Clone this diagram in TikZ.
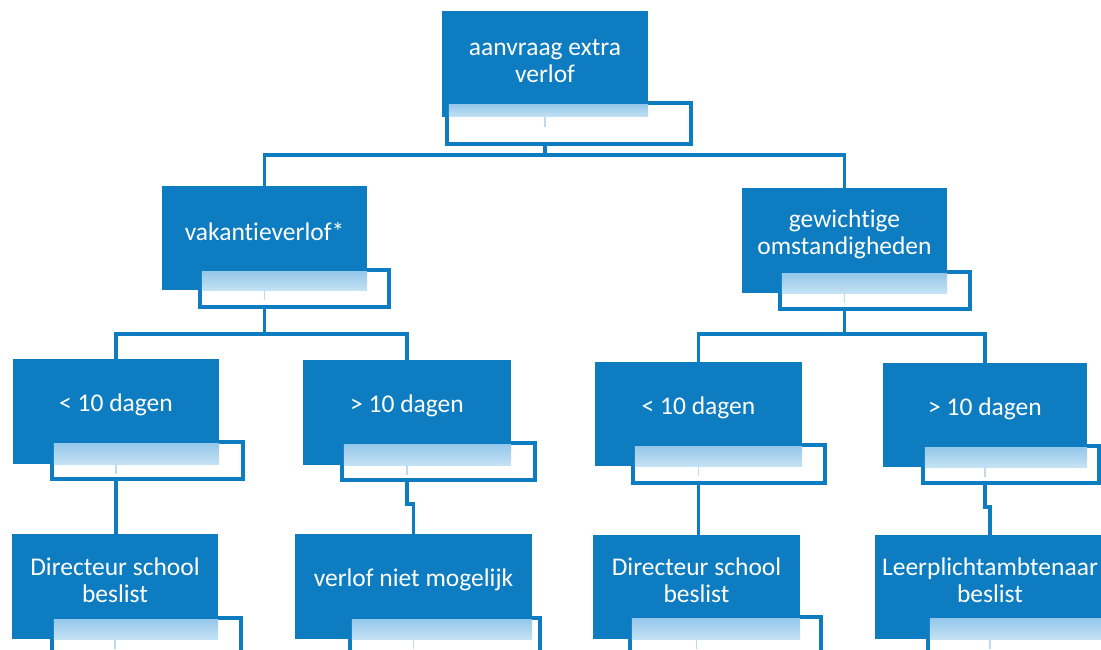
\documentclass[tikz,border=0pt]{standalone}
\usepackage{fontspec}
\setmainfont[Ligatures=NoCommon]{Carlito}
\definecolor{boxblue}{RGB}{14,124,193}
\definecolor{bandtop}{RGB}{150,200,234}
\definecolor{bandbot}{RGB}{196,226,245}
\definecolor{tickblue}{RGB}{185,220,240}
\tikzset{
  bluebox/.style={fill=boxblue, draw=none, inner sep=0pt},
  whitebox/.style={fill=white, draw=boxblue, line width=3.5pt, inner sep=0pt},
  lbl/.style={text=white, font=\fontsize{25.5}{27}\selectfont, align=center, inner sep=0pt},
  conn/.style={draw=boxblue, line width=3.5pt},
}
% \blk{name}{bx1}{by1}{bx2}{by2}{wx1}{wy1}{wx2}{wy2}{text}
\newcommand{\blk}[9]{%
  \def\bname{#1}\def\bxa{#2}\def\bya{#3}\def\bxb{#4}\def\byb{#5}%
  \def\wxa{#6}\def\wya{#7}\def\wxb{#8}\def\wyb{#9}%
  \blkdraw}
\newcommand{\blkdraw}[1]{%
  \node[bluebox, minimum width=\bxb-\bxa, minimum height=\byb-\bya] (\bname-b) at ({(\bxa+\bxb)/2},{(\bya+\byb)/2}) {};
  \node[whitebox, minimum width=\wxb-\wxa, minimum height=\wyb-\wya] (\bname-w) at ({(\wxa+\wxb)/2},{(\wya+\wyb)/2}) {};
  \shade[top color=bandtop, bottom color=bandbot] (\wxa+1.75,\wya+1.75) rectangle (\bxb,\byb);
  \draw[tickblue, line width=1.5pt] ({(\bxa+\bxb)/2},\byb) -- ++(0,10);
  \node[lbl] (\bname) at ({(\bxa+\bxb)/2},{(\bya+\wya)/2+4}) {#1};
}
\begin{document}
\begin{tikzpicture}[x=1pt, y=-1pt]
\useasboundingbox (0,0) rectangle (1101,650);
\fill[white] (0,0) rectangle (1101,650);

\blk{top}{442}{11}{648}{117}{447}{103}{691}{144}{aanvraag extra\\verlof}
\blk{vak}{162}{186}{367}{290}{200}{270}{389}{307}{vakantieverlof*}
\blk{gew}{742}{188}{947}{293}{780}{272}{970}{309}{gewichtige\\omstandigheden}
\blk{vkl}{13}{359}{219}{464}{52}{442}{243}{479}{< 10 dagen}
\blk{vgr}{303}{360}{511}{465}{342}{443}{535}{480}{> 10 dagen}
\blk{gkl}{595}{362}{802}{466}{633}{445}{825}{483}{< 10 dagen}
\blk{ggr}{883}{363}{1087}{467}{923}{446}{1099}{483}{> 10 dagen}
\blk{dir1}{12}{534}{218}{639}{52}{618}{241}{662}{Directeur school\\beslist}
\blk{niet}{295}{534}{532}{639}{350}{618}{540}{662}{verlof niet mogelijk}
\blk{dir2}{593}{535}{800}{639}{630}{617}{821}{662}{Directeur school\\beslist}
\blk{leer}{875}{535}{1105}{639}{928}{617}{1112}{662}{Leerplichtambtenaar\\beslist}

% connectors
\draw[conn] (top |- top-w.south) -- (top |- 0,155) -| (vak-b.north);
\draw[conn] (top |- 0,155) -| (gew-b.north);
\draw[conn] (vak |- vak-w.south) -- (vak |- 0,334) -| (vkl-b.north);
\draw[conn] (vak |- 0,334) -| (vgr-b.north);
\draw[conn] (gew |- gew-w.south) -- (gew |- 0,334) -| (gkl-b.north);
\draw[conn] (gew |- 0,334) -| (ggr-b.north);
\draw[conn] (vkl |- vkl-w.south) -- (dir1-b.north -| vkl);
\draw[conn] (vgr |- vgr-w.south) -- (vgr |- 0,504) -| (niet-b.north);
\draw[conn] (gkl |- gkl-w.south) -- (dir2-b.north -| gkl);
\draw[conn] (ggr |- ggr-w.south) -- (ggr |- 0,507) -| (leer-b.north);
\end{tikzpicture}
\end{document}
